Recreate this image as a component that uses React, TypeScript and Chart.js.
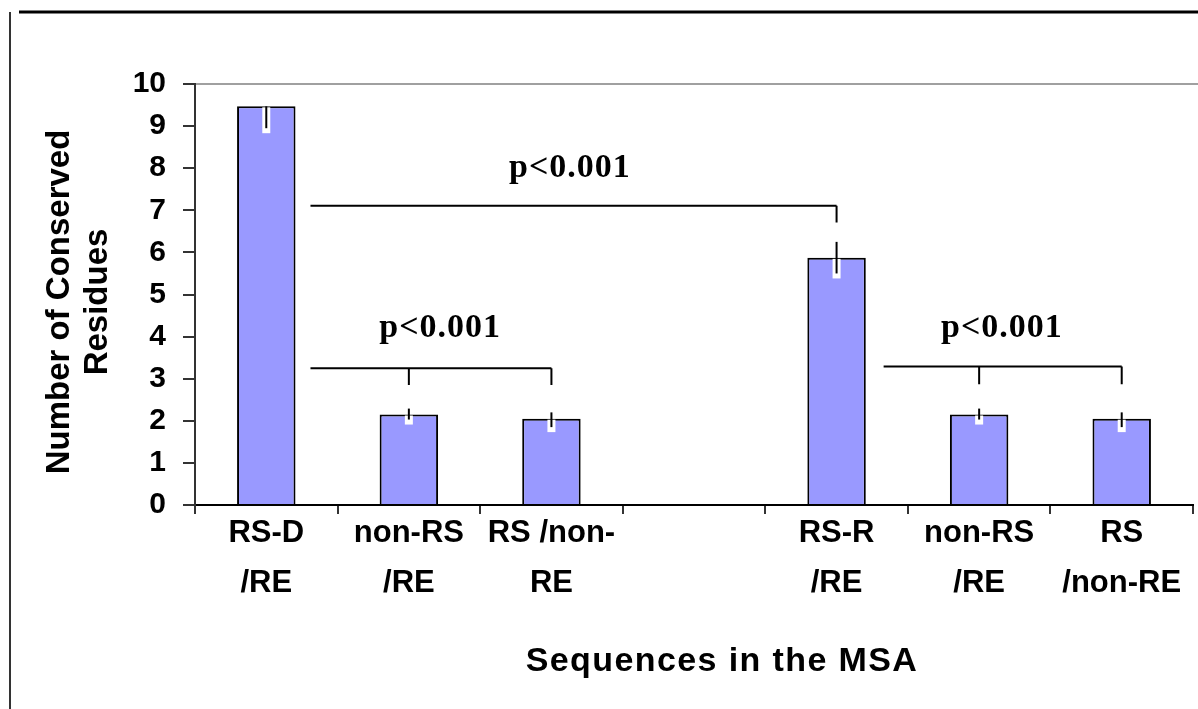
import React, { useEffect, useRef } from 'react';
import { Chart, registerables } from 'chart.js';

Chart.register(...registerables);

// ---- data ----
const categories: string[][] = [
  ['RS-D', '/RE'],
  ['non-RS', '/RE'],
  ['RS /non-', 'RE'],
  [''],
  ['RS-R', '/RE'],
  ['non-RS', '/RE'],
  ['RS', '/non-RE'],
];
const values: (number | null)[] = [9.47, 2.15, 2.05, null, 5.87, 2.15, 2.05];
const errorLow: (number | null)[] = [0.52, 0.12, 0.2, null, 0.37, 0.12, 0.2];
const errorHigh: (number | null)[] = [0, 0.14, 0.15, null, 0.38, 0.14, 0.15];
const yTickValues = [0, 1, 2, 3, 4, 5, 6, 7, 8, 9, 10];

// significance brackets (data coordinates)
const bracketLabels = ['p<0.001', 'p<0.001', 'p<0.001'];
const bracketLevel = [7.11, 3.25, 3.29];
const bracketFrom = [0.31, 0.31, 4.33];
const bracketTo = [4, 2, 6];
const bracketDrops = [[4], [1, 2], [5, 6]];
const bracketDropTo = [6.71, 2.85, 2.87];
const bracketLabelX = [2.13, 1.22, 5.16];
const bracketLabelY = [8.0, 4.2, 4.2];

const yTitleLines = ['Number of Conserved', 'Residues'];
const xTitle = 'Sequences in the MSA';

const SANS = '"Liberation Sans", Arial, sans-serif';
const SERIF = '"Liberation Serif", "Times New Roman", serif';

const decorPlugin = {
  id: 'decor',
  beforeDraw(chart: any) {
    const { ctx, width, height, chartArea } = chart;
    ctx.save();
    ctx.fillStyle = '#ffffff';
    ctx.fillRect(0, 0, width, height);
    // outer frame lines
    ctx.strokeStyle = '#000';
    ctx.lineWidth = 3;
    ctx.beginPath();
    ctx.moveTo(19, 12);
    ctx.lineTo(width, 12);
    ctx.stroke();
    ctx.strokeStyle = '#333';
    ctx.lineWidth = 2;
    ctx.beginPath();
    ctx.moveTo(10, 12);
    ctx.lineTo(10, height);
    ctx.stroke();
    // plot area top border
    ctx.strokeStyle = '#a0a0a0';
    ctx.lineWidth = 2;
    ctx.beginPath();
    ctx.moveTo(chartArea.left, chartArea.top);
    ctx.lineTo(width, chartArea.top);
    ctx.stroke();
    ctx.restore();
  },
  afterDatasetsDraw(chart: any) {
    const { ctx } = chart;
    const xs = chart.scales.x;
    const ys = chart.scales.y;
    ctx.save();
    // error bars
    values.forEach((v, i) => {
      if (v === null) return;
      const lo = errorLow[i] ?? 0;
      const hi = errorHigh[i] ?? 0;
      const x = xs.getPixelForValue(i);
      const yBar = ys.getPixelForValue(v);
      const yTop = ys.getPixelForValue(v + hi);
      const yBot = ys.getPixelForValue(v - lo);
      ctx.fillStyle = '#ffffff';
      ctx.fillRect(x - 4, yBar + 1, 8, yBot - yBar + 4);
      ctx.strokeStyle = '#000';
      ctx.lineWidth = 2;
      ctx.beginPath();
      ctx.moveTo(x, yTop);
      ctx.lineTo(x, yBot);
      ctx.stroke();
    });
    // brackets
    ctx.strokeStyle = '#000';
    ctx.lineWidth = 2;
    bracketLevel.forEach((lvl, i) => {
      const y = ys.getPixelForValue(lvl);
      ctx.beginPath();
      ctx.moveTo(xs.getPixelForValue(bracketFrom[i]), y);
      ctx.lineTo(xs.getPixelForValue(bracketTo[i]), y);
      bracketDrops[i].forEach((d) => {
        const dx = xs.getPixelForValue(d);
        ctx.moveTo(dx, y);
        ctx.lineTo(dx, ys.getPixelForValue(bracketDropTo[i]));
      });
      ctx.stroke();
      ctx.fillStyle = '#000';
      ctx.font = `bold 34px ${SERIF}`;
      (ctx as any).letterSpacing = '1px';
      ctx.textAlign = 'center';
      ctx.textBaseline = 'middle';
      ctx.fillText(
        bracketLabels[i],
        xs.getPixelForValue(bracketLabelX[i]),
        ys.getPixelForValue(bracketLabelY[i])
      );
      (ctx as any).letterSpacing = '0px';
    });
    ctx.restore();
  },
  afterDraw(chart: any) {
    const { ctx } = chart;
    ctx.save();
    ctx.fillStyle = '#000';
    ctx.font = `bold 33px ${SANS}`;
    ctx.textAlign = 'center';
    ctx.textBaseline = 'middle';
    const lineX = [60, 98];
    yTitleLines.forEach((t, i) => {
      ctx.save();
      ctx.translate(lineX[i], 302);
      ctx.rotate(-Math.PI / 2);
      ctx.fillText(t, 0, 0);
      ctx.restore();
    });
    ctx.font = `bold 34px ${SANS}`;
    (ctx as any).letterSpacing = '1.4px';
    ctx.fillText(xTitle, 722, 662);
    (ctx as any).letterSpacing = '0px';
    ctx.restore();
  },
};

export default function App() {
  const ref = useRef<HTMLCanvasElement | null>(null);
  useEffect(() => {
    if (!ref.current) return;
    const chart = new Chart(ref.current, {
      type: 'bar',
      data: {
        labels: categories,
        datasets: [
          {
            data: values as any,
            backgroundColor: '#9999FF',
            borderColor: '#000000',
            borderWidth: 2,
            barPercentage: 0.41,
            categoryPercentage: 1,
          },
        ],
      },
      options: {
        animation: false,
        responsive: false,
        devicePixelRatio: 1,
        layout: { padding: { top: 84, right: 5, left: 0, bottom: 0 } },
        plugins: { legend: { display: false }, tooltip: { enabled: false }, title: { display: false } },
        scales: {
          x: {
            offset: true,
            grid: { drawOnChartArea: false, tickLength: 9, color: '#333', lineWidth: 2, offset: true },
            border: { color: '#000', width: 2 },
            ticks: {
              color: '#000',
              font: { family: SANS, weight: 'bold', size: 31, lineHeight: 50 / 31 },
              padding: -6,
              maxRotation: 0,
              minRotation: 0,
              autoSkip: false,
            },
            afterFit: (s: any) => {
              s.height = 204;
            },
          },
          y: {
            min: 0,
            max: 10,
            afterBuildTicks: (s: any) => {
              s.ticks = yTickValues.map((v) => ({ value: v }));
            },
            grid: { drawOnChartArea: false, tickLength: 12, color: '#333', lineWidth: 2 },
            border: { color: '#333', width: 2 },
            ticks: {
              color: '#000',
              font: { family: SANS, weight: 'bold', size: 30 },
              padding: 17,
            },
            afterFit: (s: any) => {
              s.width = 195;
            },
          },
        },
      },
      plugins: [decorPlugin],
    });
    return () => chart.destroy();
  }, []);
  return (
    <div style={{ position: 'fixed', left: 0, top: 0, width: 1198, height: 709, background: '#fff' }}>
      <canvas ref={ref} width={1198} height={709} style={{ width: 1198, height: 709, display: 'block' }} />
    </div>
  );
}
